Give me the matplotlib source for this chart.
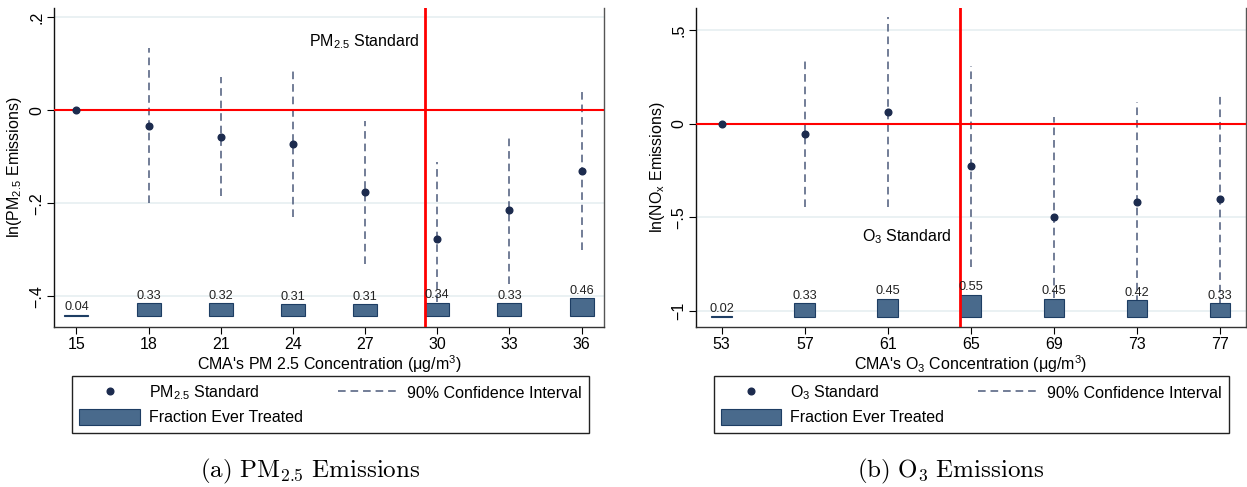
import matplotlib
matplotlib.use("Agg")
import matplotlib.pyplot as plt
from matplotlib.lines import Line2D
from matplotlib.patches import Patch

plt.rcParams['font.family'] = ['Liberation Sans', 'DejaVu Sans']
plt.rcParams['mathtext.fontset'] = 'custom'
plt.rcParams['mathtext.rm'] = 'Liberation Sans'
plt.rcParams['mathtext.it'] = 'Liberation Sans:italic'
plt.rcParams['mathtext.bf'] = 'Liberation Sans:bold'

# ---- panel (a): PM2.5 ----
pm_x = [15, 18, 21, 24, 27, 30, 33, 36]
pm_coef = [0.0, -0.033, -0.056, -0.072, -0.176, -0.276, -0.215, -0.130]
pm_lo = [0.0, -0.198, -0.184, -0.228, -0.331, -0.412, -0.373, -0.301]
pm_hi = [0.0, 0.134, 0.071, 0.089, -0.022, -0.110, -0.055, 0.044]
pm_frac = [0.04, 0.33, 0.32, 0.31, 0.31, 0.34, 0.33, 0.46]
pm_std = 29.5

# ---- panel (b): O3 ----
o3_x = [53, 57, 61, 65, 69, 73, 77]
o3_coef = [0.0, -0.054, 0.063, -0.228, -0.500, -0.418, -0.403]
o3_lo = [0.0, -0.444, -0.444, -0.765, -0.930, -0.955, -0.965]
o3_hi = [0.0, 0.346, 0.567, 0.309, 0.038, 0.116, 0.155]
o3_frac = [0.02, 0.33, 0.45, 0.55, 0.45, 0.42, 0.33]
o3_std = 64.5

NAVY = "#1c2b4e"
CI_COL = "#4c5a7a"
BAR_FACE = "#496a8c"
BAR_EDGE = "#1d3d63"
GRID = "#e6eff1"
FS = 11.5

fig = plt.figure(figsize=(12.47, 4.87), dpi=100)


def panel(rect, x, coef, lo, hi, frac, std, ylim, yticks, ylabels,
          base, scale, xlabel, ylabel, std_label, std_xy, ylab_x):
    ax = fig.add_axes(rect)
    for t in yticks:
        ax.axhline(t, color=GRID, lw=1.2, zorder=0)
    ax.vlines(x[1:], lo[1:], hi[1:], colors=CI_COL, linestyles=(0, (5, 3.2)),
              lw=1.1, zorder=2)
    # bars show the fraction treated, stacked on a fixed baseline
    heights = [f * scale for f in frac]
    ax.bar(x, heights, width=1.0, bottom=base, color=BAR_FACE,
           edgecolor=BAR_EDGE, lw=0.8, zorder=3)
    for xi, h, f in zip(x, heights, frac):
        ax.annotate(f"{f:.2f}", (xi, base + h), xytext=(0, 1), textcoords="offset points",
                    ha="center", va="bottom", fontsize=9.2, color="#222222", zorder=6)
    ax.axhline(0, color="red", lw=1.5, zorder=4)
    ax.axvline(std, color="red", lw=2.0, zorder=4)
    ax.plot(x, coef, "o", color=NAVY, ms=4.8, zorder=5)
    ax.text(std_xy[0], std_xy[1], std_label, ha="right", va="center", fontsize=FS)

    ax.set_xlim(x[0] - (x[1] - x[0]) * 0.31, x[-1] + (x[1] - x[0]) * 0.31)
    ax.set_ylim(*ylim)
    ax.set_xticks(x)
    ax.set_yticks(yticks)
    ax.set_yticklabels(ylabels, rotation=90, va="center")
    ax.tick_params(labelsize=FS, length=5, width=0.8, direction="out", pad=2)
    ax.spines["top"].set_visible(False)
    ax.spines["left"].set_color("#111111")
    ax.spines["bottom"].set_color("#333333")
    ax.spines["right"].set_color("#555555")
    for s in ("left", "bottom", "right"):
        ax.spines[s].set_linewidth(1.0)
    ax.set_xlabel(xlabel, fontsize=FS, labelpad=1)
    ax.set_ylabel(ylabel, fontsize=FS)
    ax.yaxis.set_label_coords(ylab_x, 0.5)
    return ax


W, H = 1247, 487
ax_a = panel([54 / W, 1 - 327 / H, 550 / W, 319 / H], pm_x, pm_coef, pm_lo, pm_hi, pm_frac,
             pm_std, (-0.4656, 0.2204), [-0.4, -0.2, 0, 0.2], ["\u2212.4", "\u2212.2", "0", ".2"],
             -0.4425, 0.0858, "CMA's PM 2.5 Concentration (\u03bcg/m$^{3}$)",
             r"ln(PM$_{2.5}$ Emissions)", r"PM$_{2.5}$ Standard", (29.25, 0.148), -0.055)
ax_b = panel([696 / W, 1 - 327 / H, 549.7 / W, 319 / H], o3_x, o3_coef, o3_lo, o3_hi, o3_frac,
             o3_std, (-1.085, 0.617), [-1, -0.5, 0, 0.5], ["\u22121", "\u2212.5", "0", ".5"],
             -1.030, 0.2134, "CMA's O$_{3}$ Concentration (\u03bcg/m$^{3}$)",
             r"ln(NO$_{\mathrm{x}}$ Emissions)", r"O$_{3}$ Standard", (64.05, -0.605), -0.053)

# legends
for box, name in [((72 / W, 1 - 430.7 / H, 517 / W, 52.4 / H), r"PM$_{2.5}$ Standard"),
                  ((713.6 / W, 1 - 430.7 / H, 515.4 / W, 52.4 / H), r"O$_{3}$ Standard")]:
    handles = [Line2D([], [], marker="o", ls="none", color=NAVY, ms=4.8),
               Patch(facecolor=BAR_FACE, edgecolor=BAR_EDGE, lw=0.8),
               Line2D([], [], ls=(0, (5, 3.2)), color=CI_COL, lw=1.1)]
    labels = [name, "Fraction Ever Treated", "90% Confidence Interval"]
    leg = fig.legend(handles, labels, ncol=2, bbox_to_anchor=box, loc="center", mode="expand",
                     borderaxespad=0, fontsize=FS, handlelength=3.8, handleheight=1.2,
                     handletextpad=0.55, labelspacing=0.4, borderpad=0.45,
                     fancybox=False, edgecolor="#222222", framealpha=1)
    leg.get_frame().set_linewidth(1.0)

fig.text(310 / W, 1 - 471 / H, r"$\mathrm{(a)\ PM_{2.5}\ Emissions}$", ha="center", va="center",
         fontsize=18, math_fontfamily="cm")
fig.text(951 / W, 1 - 471 / H, r"$\mathrm{(b)\ O_{3}\ Emissions}$", ha="center", va="center",
         fontsize=18, math_fontfamily="cm")

fig.savefig("out.png", dpi=100)
